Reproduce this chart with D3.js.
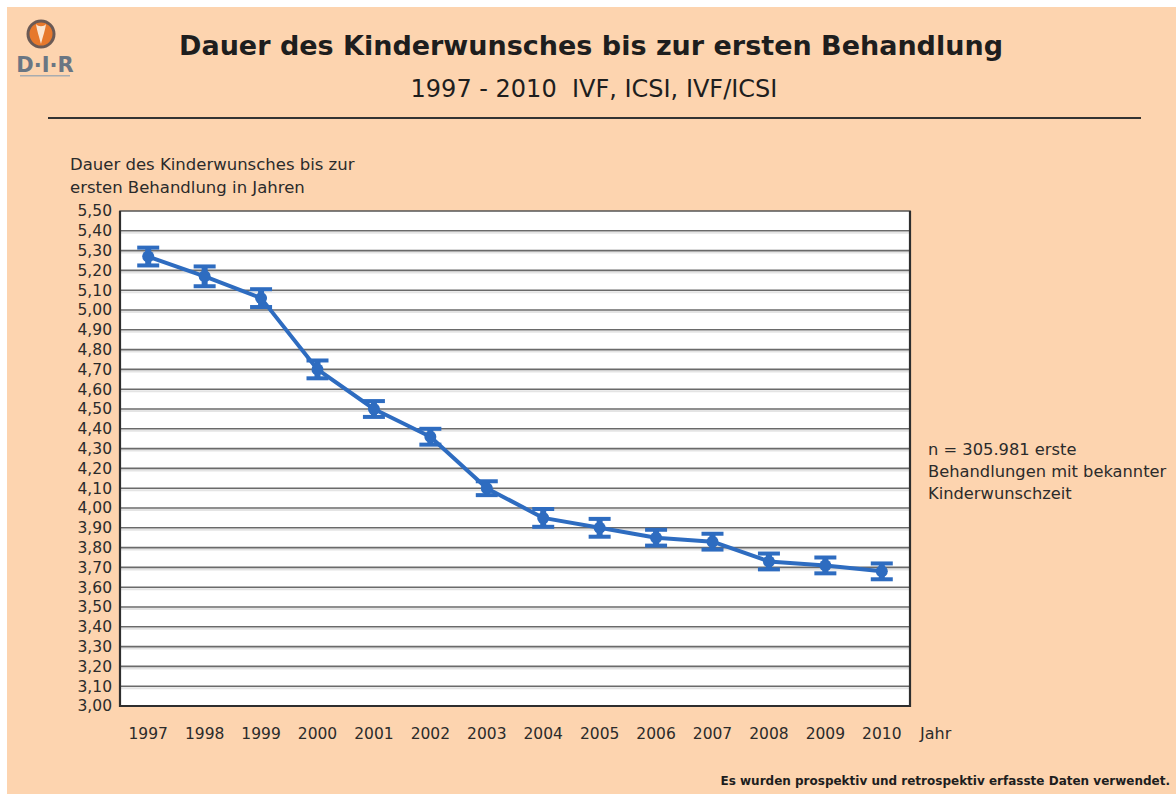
<!DOCTYPE html>
<html>
<head>
<meta charset="utf-8">
<script src="https://cdn.jsdelivr.net/npm/d3@7"></script>
<style>
  html, body { margin: 0; padding: 0; background: #ffffff; }
  svg { display: block; }
  text { font-family: "DejaVu Sans", "Noto Sans", sans-serif; fill: #2b2b2b; }
</style>
</head>
<body>
<div id="chart"></div>
<script>
// Jahre der Erstbehandlung
const years = ["1997","1998","1999","2000","2001","2002","2003","2004","2005","2006","2007","2008","2009","2010"];
// Mittlere Dauer des Kinderwunsches (Jahre)
const meanDuration = [5.27, 5.17, 5.06, 4.70, 4.50, 4.36, 4.10, 3.95, 3.90, 3.85, 3.83, 3.73, 3.71, 3.68];
// Halbe Breite des Fehlerbalkens (Jahre)
const errorHalf = [0.045, 0.05, 0.045, 0.045, 0.04, 0.04, 0.035, 0.045, 0.045, 0.04, 0.04, 0.04, 0.04, 0.04];
// Beschriftung der y-Achse
const yTicks = d3.range(3.0, 5.5001, 0.1).map(v => +v.toFixed(2));
const noteLines = ["n = 305.981 erste", "Behandlungen mit bekannter", "Kinderwunschzeit"];

const W = 1176, H = 794;
const svg = d3.select("#chart").append("svg").attr("width", W).attr("height", H);

// Hintergrund
svg.append("rect").attr("x", 7).attr("y", 7).attr("width", W - 7).attr("height", H - 7).attr("fill", "#fdd4af");

// Logo
const logo = svg.append("g");
logo.append("circle").attr("cx", 41).attr("cy", 34).attr("r", 13).attr("fill", "#e6782c").attr("stroke", "#6b5a55").attr("stroke-width", 3);
logo.append("path").attr("d", "M36,24 C37,31 39,36 41,44 C43,36 45,31 46,24 C44,27 38,27 36,24 Z").attr("fill", "#fbe6d2");
logo.append("text").attr("x", 45).attr("y", 72).attr("text-anchor", "middle")
  .style("font-size", "21px").style("font-weight", "bold").style("fill", "#6a7683").text("D·I·R");
logo.append("rect").attr("x", 20).attr("y", 75).attr("width", 50).attr("height", 1.5).attr("fill", "#a8acb0");

// Titel
svg.append("text").attr("x", 591).attr("y", 55).attr("text-anchor", "middle")
  .style("font-size", "27px").style("font-weight", "bold").style("fill", "#1e1e1e")
  .text("Dauer des Kinderwunsches bis zur ersten Behandlung");
svg.append("text").attr("x", 594).attr("y", 97).attr("text-anchor", "middle")
  .style("font-size", "24px").style("fill", "#1e1e1e").style("white-space", "pre")
  .text("1997 - 2010  IVF, ICSI, IVF/ICSI");
svg.append("line").attr("x1", 48).attr("x2", 1141).attr("y1", 118).attr("y2", 118)
  .attr("stroke", "#333").attr("stroke-width", 2);

// Plotbereich
const m = { left: 120, right: 910, top: 211, bottom: 706 };
const x = d3.scaleBand().domain(years).range([m.left, m.right]);
const y = d3.scaleLinear().domain([3.0, 5.5]).range([m.bottom, m.top]);

svg.append("rect").attr("x", m.left).attr("y", m.top).attr("width", m.right - m.left).attr("height", m.bottom - m.top)
  .attr("fill", "#ffffff");

// Gitterlinien
const grid = svg.append("g");
grid.selectAll("line.shade").data(yTicks.slice(1, -1)).join("line").attr("class", "shade")
  .attr("x1", m.left).attr("x2", m.right)
  .attr("y1", d => y(d) + 2).attr("y2", d => y(d) + 2)
  .attr("stroke", "#e4e4e4").attr("stroke-width", 2);
grid.selectAll("line.main").data(yTicks.slice(1, -1)).join("line").attr("class", "main")
  .attr("x1", m.left).attr("x2", m.right)
  .attr("y1", d => y(d)).attr("y2", d => y(d))
  .attr("stroke", "#6a6a6a").attr("stroke-width", 1.6);

// Rahmen
svg.append("rect").attr("x", m.left).attr("y", m.top).attr("width", m.right - m.left).attr("height", m.bottom - m.top)
  .attr("fill", "none").attr("stroke", "#555").attr("stroke-width", 1.5);
svg.append("path").attr("d", `M${m.left},${m.top}V${m.bottom}H${m.right}V${m.top}`)
  .attr("fill", "none").attr("stroke", "#2e2e2e").attr("stroke-width", 2.2);

// y-Achse
const yAxis = d3.axisLeft(y).tickValues(yTicks).tickSize(0).tickPadding(8)
  .tickFormat(d => d3.format(".2f")(d).replace(".", ","));
const gy = svg.append("g").attr("transform", `translate(${m.left},0)`).call(yAxis);
gy.select(".domain").remove();
gy.selectAll("text").style("font-size", "15.5px").style("fill", "#2b2b2b").style("font-family", "\"DejaVu Sans\", sans-serif");

// x-Achse
const xAxis = d3.axisBottom(x).tickSize(0).tickPadding(22);
const gx = svg.append("g").attr("transform", `translate(0,${m.bottom})`).call(xAxis);
gx.select(".domain").remove();
gx.selectAll("text").style("font-size", "15.5px").style("fill", "#2b2b2b").style("font-family", "\"DejaVu Sans\", sans-serif");

svg.append("text").attr("x", 920).attr("y", 739).style("font-size", "16px").text("Jahr");

// Achsentitel
svg.append("text").attr("x", 70).attr("y", 170).style("font-size", "16.5px").text("Dauer des Kinderwunsches bis zur");
svg.append("text").attr("x", 70).attr("y", 193).style("font-size", "16.5px").text("ersten Behandlung in Jahren");

// Hinweis
svg.append("g").selectAll("text").data(noteLines).join("text")
  .attr("x", 928).attr("y", (d, i) => 455 + i * 22).style("font-size", "16.3px").text(d => d);

// Fußnote
svg.append("text").attr("x", 1170).attr("y", 785).attr("text-anchor", "end")
  .style("font-size", "12px").style("font-weight", "bold").style("fill", "#1e1e1e")
  .text("Es wurden prospektiv und retrospektiv erfasste Daten verwendet.");

// Datenreihe
const blue = "#2e6cc0";
const pts = years.map((yr, i) => ({ yr, v: meanDuration[i], e: errorHalf[i] }));
const cx = d => x(d.yr) + x.bandwidth() / 2;

svg.append("path").datum(pts)
  .attr("d", d3.line().x(cx).y(d => y(d.v)))
  .attr("fill", "none").attr("stroke", blue).attr("stroke-width", 4).attr("stroke-linejoin", "round");

const eb = svg.append("g").selectAll("g").data(pts).join("g");
eb.append("line").attr("x1", cx).attr("x2", cx).attr("y1", d => y(d.v + d.e)).attr("y2", d => y(d.v - d.e))
  .attr("stroke", blue).attr("stroke-width", 6);
eb.append("line").attr("x1", d => cx(d) - 11).attr("x2", d => cx(d) + 11)
  .attr("y1", d => y(d.v + d.e)).attr("y2", d => y(d.v + d.e)).attr("stroke", blue).attr("stroke-width", 4);
eb.append("line").attr("x1", d => cx(d) - 11).attr("x2", d => cx(d) + 11)
  .attr("y1", d => y(d.v - d.e)).attr("y2", d => y(d.v - d.e)).attr("stroke", blue).attr("stroke-width", 4);
eb.append("circle").attr("cx", cx).attr("cy", d => y(d.v)).attr("r", 6).attr("fill", blue);
</script>
</body>
</html>
